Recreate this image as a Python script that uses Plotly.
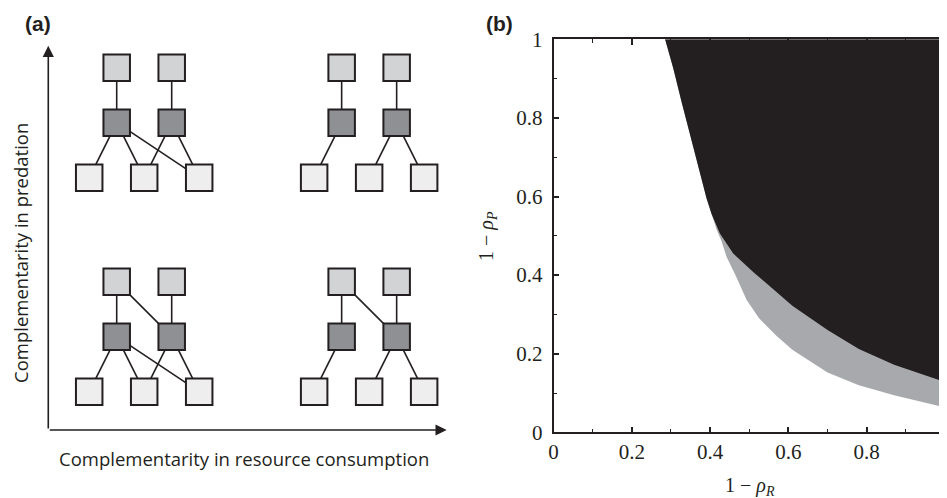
import plotly.graph_objects as go

# ---------------- Panel (b) data: region boundaries ----------------
# boundary of the black region (1 - rho_R, 1 - rho_P)
black_x = [0.285, 0.306, 0.327, 0.349, 0.370, 0.391, 0.404, 0.425, 0.459, 0.51, 0.56, 0.61, 0.70, 0.78, 0.87, 1.0]
black_y = [1.0, 0.926, 0.841, 0.757, 0.672, 0.595, 0.555, 0.506, 0.455, 0.408, 0.365, 0.322, 0.260, 0.212, 0.172, 0.128]
# lower boundary of the grey region
grey_x = [0.285, 0.306, 0.327, 0.349, 0.370, 0.391, 0.404, 0.417, 0.428, 0.442, 0.467, 0.493, 0.525, 0.57, 0.61, 0.70, 0.78, 0.87, 1.0]
grey_y = [1.0, 0.926, 0.841, 0.757, 0.672, 0.595, 0.555, 0.515, 0.489, 0.447, 0.395, 0.337, 0.29, 0.245, 0.21, 0.152, 0.12, 0.094, 0.063]
tick_vals = [0, 0.2, 0.4, 0.6, 0.8, 1]
tick_text = ["0", "0.2", "0.4", "0.6", "0.8", "1"]

# ---------------- Panel (a) data: schematic food webs ----------------
node_names = ["R1", "R2", "R3", "C1", "C2", "P1", "P2"]
node_col = [0, 1, 2, 0.5, 1.5, 0.5, 1.5]
node_level = [0, 0, 0, 1, 1, 2, 2]
level_colors = ["#eeeeef", "#8f9093", "#d2d3d5"]

web_top_left = [("P1", "C1"), ("P2", "C2"), ("C1", "R1"), ("C1", "R2"), ("C1", "R3"), ("C2", "R2"), ("C2", "R3")]
web_top_right = [("P1", "C1"), ("P2", "C2"), ("C1", "R1"), ("C2", "R2"), ("C2", "R3")]
web_bottom_left = [("P1", "C1"), ("P1", "C2"), ("P2", "C2"), ("C1", "R1"), ("C1", "R2"), ("C1", "R3"), ("C2", "R2"), ("C2", "R3")]
web_bottom_right = [("P1", "C1"), ("P1", "C2"), ("P2", "C2"), ("C1", "R1"), ("C2", "R2"), ("C2", "R3")]

DARK = "#231f20"
GREY = "#a7a9ac"

# page body has an 8px margin; the figure is sized to fit the window
OFF = 8
W, H = 947 - OFF, 498 - OFF


def px(x):
    return (x - OFF) / W


def py(y):
    return 1 - (y - OFF) / H


fig = go.Figure()

# ---- panel (b) ----
fig.add_trace(go.Scatter(
    x=grey_x + [1.0], y=grey_y + [1.0], mode="lines", fill="toself",
    fillcolor=GREY, line=dict(width=0, color=GREY), hoverinfo="skip", showlegend=False,
    xaxis="x", yaxis="y"))
fig.add_trace(go.Scatter(
    x=black_x + [1.0], y=black_y + [1.0], mode="lines", fill="toself",
    fillcolor=DARK, line=dict(width=0, color=DARK), hoverinfo="skip", showlegend=False,
    xaxis="x", yaxis="y"))

# ---- panel (a) ----
webs = [
    (web_top_left, 0.0, 0.0),
    (web_top_right, 4.09, 0.0),
    (web_bottom_left, 0.0, -3.89),
    (web_bottom_right, 4.09, -3.89),
]
pos = {n: (c, l) for n, c, l in zip(node_names, node_col, node_level)}
ex, ey = [], []
for edges, dx, dy in webs:
    for a, b in edges:
        ex += [pos[a][0] + dx, pos[b][0] + dx, None]
        ey += [pos[a][1] + dy, pos[b][1] + dy, None]
fig.add_trace(go.Scatter(x=ex, y=ey, mode="lines", line=dict(color=DARK, width=1.6),
                         hoverinfo="skip", showlegend=False, xaxis="x2", yaxis="y2"))
for lvl in range(3):
    xs, ys = [], []
    for edges, dx, dy in webs:
        for n, c, l in zip(node_names, node_col, node_level):
            if l == lvl:
                xs.append(c + dx)
                ys.append(l + dy)
    fig.add_trace(go.Scatter(
        x=xs, y=ys, mode="markers",
        marker=dict(symbol="square", size=26.5, color=level_colors[lvl],
                    line=dict(color=DARK, width=2)),
        hoverinfo="skip", showlegend=False, xaxis="x2", yaxis="y2"))

# axis arrows of panel (a)
ox, oy = -0.744, -4.587
fig.add_annotation(x=ox, y=2.40, ax=ox, ay=oy, xref="x2", yref="y2", axref="x2", ayref="y2",
                   text="", showarrow=True, arrowhead=2, arrowsize=1.4, arrowwidth=1.6, arrowcolor=DARK)
fig.add_annotation(x=6.50, y=oy, ax=ox, ay=oy, xref="x2", yref="y2", axref="x2", ayref="y2",
                   text="", showarrow=True, arrowhead=2, arrowsize=1.4, arrowwidth=1.6, arrowcolor=DARK)

sans = "Open Sans"
fig.add_annotation(x=px(244), y=py(458), xref="paper", yref="paper", showarrow=False,
                   text="Complementarity in resource consumption",
                   font=dict(family=sans, size=18.5, color=DARK), xanchor="center", yanchor="middle")
fig.add_annotation(x=px(20), y=py(253), xref="paper", yref="paper", showarrow=False,
                   text="Complementarity in predation", textangle=-90,
                   font=dict(family=sans, size=18.5, color=DARK), xanchor="center", yanchor="middle")
fig.add_annotation(x=px(38), y=py(24), xref="paper", yref="paper", showarrow=False,
                   text="<b>(a)</b>", font=dict(family="Liberation Sans", size=21, color=DARK),
                   xanchor="center", yanchor="middle")
fig.add_annotation(x=px(499), y=py(24), xref="paper", yref="paper", showarrow=False,
                   text="<b>(b)</b>", font=dict(family="Liberation Sans", size=21, color=DARK),
                   xanchor="center", yanchor="middle")

serif = "Liberation Serif"
fig.add_annotation(x=px(750), y=py(486), xref="paper", yref="paper", showarrow=False,
                   text="1 − <i>ρ</i><sub><i>R</i></sub>",
                   font=dict(family=serif, size=20, color=DARK), xanchor="center", yanchor="middle")
fig.add_annotation(x=px(487), y=py(236), xref="paper", yref="paper", showarrow=False,
                   text="1 − <i>ρ</i><sub><i>P</i></sub>", textangle=-90,
                   font=dict(family=serif, size=20, color=DARK), xanchor="center", yanchor="middle")

axis_common = dict(range=[0, 1], showgrid=False, zeroline=False, showline=True, linecolor=DARK,
                   linewidth=1.5, mirror="ticks", ticks="inside", ticklen=6, tickwidth=1.5,
                   tickcolor=DARK, tickvals=tick_vals, ticktext=tick_text, automargin=False,
                   ticklabeloverflow="allow",
                   tickfont=dict(family=serif, size=21, color=DARK),
                   minor=dict(dtick=0.1, tick0=0, ticks="inside", ticklen=4, tickwidth=1.3, tickcolor=DARK))

fig.update_layout(
    width=W, height=H, margin=dict(l=0, r=0, t=0, b=0, autoexpand=False),
    paper_bgcolor="white", plot_bgcolor="white",
    xaxis=dict(domain=[px(553.5), px(945)], anchor="y", ticklabelstandoff=0, **axis_common),
    yaxis=dict(domain=[py(432.3), py(39.3)], anchor="x", ticklabelstandoff=5, **axis_common),
    xaxis2=dict(domain=[0, px(460)], range=[(OFF - 89.2) / 55, (460 - 89.2) / 55],
                visible=False, anchor="y2"),
    yaxis2=dict(domain=[0, 1], range=[(177.7 - 498) / 55, (177.7 - OFF) / 55],
                visible=False, anchor="x2"),
)

fig.write_html("out.html")
